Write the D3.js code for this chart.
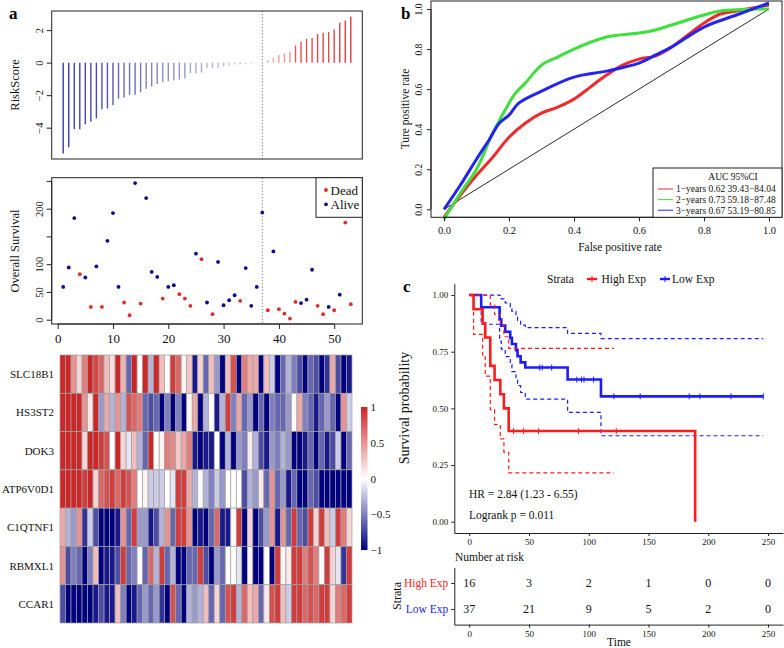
<!doctype html>
<html>
<head>
<meta charset="utf-8">
<title>Risk model figure</title>
<script src="https://d3js.org/d3.v7.min.js"></script>
<style>
  html, body { margin: 0; padding: 0; background: #fff; }
  svg { display: block; font-family: "Liberation Serif", "Times New Roman", serif; }
</style>
</head>
<body>
<div id="chart"></div>
<script>
// ---------- panel a data ----------
var riskScore = [-5.59, -5.2, -4.1, -4.1, -3.8, -3.63, -3.43, -2.86, -2.82, -2.6,
  -2.22, -2.14, -1.98, -1.98, -1.82, -1.61, -1.47, -1.31, -1.2, -1.14,
  -1.08, -1.04, -0.98, -0.65, -0.65, -0.61, -0.35, -0.35, -0.33, -0.24,
  -0.18, -0.12, -0.1, -0.08, -0.06, -0.04, -0.02,
  0.16, 0.29, 0.47, 0.57, 0.69, 1.06, 1.29, 1.47, 1.51, 1.76, 1.84, 1.88, 2.04, 2.45, 2.59, 2.84];
var survTime = [59, 94, 183, 82, 76, 23, 96, 23, 142, 192, 59, 31, 8, 246, 29, 219, 86, 77, 38, 59,
  62, 46, 38, 25, 119, 109, 31, 10, 104, 26, 35, 44, 34, 93, 25, 59, 193,
  17, 123, 19, 11, 2, 32, 30, 36, 90, 25, 10, 23, 17, 45, 175, 28];
var survStatus = [0, 0, 0, 1, 0, 1, 0, 1, 0, 0, 0, 1, 1, 0, 1, 0, 0, 0, 1, 0,
  0, 1, 1, 1, 0, 1, 0, 1, 0, 0, 0, 0, 1, 0, 0, 0, 0,
  1, 0, 1, 1, 1, 1, 0, 0, 0, 1, 1, 0, 1, 0, 1, 1];
var statusNames = ["Alive", "Dead"];
var cutIndex = 37;
var riskTicks = [-4, -2, 0, 2];
var survTicks = [0, 50, 100, 150, 200, 250];
var survTickLabels = ["0", "50", "100", "", "200", ""];
var indexTicks = [0, 10, 20, 30, 40, 50];

var genes = ["SLC18B1", "HS3ST2", "DOK3", "ATP6V0D1", "C1QTNF1", "RBMXL1", "CCAR1"];
var exprRows = [
  [1, 1, 0.5, 0.2, 0.6, 1, 0.85, 0.7, 0.3, 0.15, 1, 0.35, -0.6, 1, 0, 1, -0.3, 1,
   0.3, 0, 0.9, 0.7, 0.05, 0.25, -0.9, 0.2, -0.6, 0.3, -0.4, -1, 0.3, 0.8, -1, 0.6, 0.4, 0.4,
   -1, 0.3, -0.2, -1, -0.6, -0.3, -0.5, -0.7, -1, -0.6, -0.7, -1, -0.8, 0.4, -0.7, -1, -0.9],
  [1, 1, 1, 1, 0.5, 0.1, 1, -0.4, 0.4, -0.3, 0.5, -0.3, 0.8, 0.7, 0.6, -0.6, -0.7, -0.6,
   -1, -0.5, -1, -0.5, -1, 0.05, 0.4, -1, -0.3, 0, -0.9, -0.3, 0.9, -0.5, 0.4, -0.6, -0.4, -1,
   -0.6, -1, -0.5, -0.6, -0.6, -0.4, 0, 0.4, -0.5, -0.6, -0.9, -0.6, -0.4, -0.6, -1, 0.5, -0.2],
  [1, 1, 1, 1, 0.2, 1, 1, 0.9, 0.8, 0, 1, 0.2, -0.1, 0.3, -0.3, -0.6, 1, 0,
   0.05, 0.6, 0.55, 0.25, 0.4, 0.6, -0.9, -1, -0.9, -0.9, 0, -1, -0.3, -1, -0.4, -0.5, 0.1, -0.3,
   -0.7, -0.9, -0.4, -0.5, -0.3, -0.4, -1, -1, -0.9, -0.6, -1, -0.6, -0.9, -0.7, -0.2, -1, -0.6],
  [1, 1, 1, 1, 0.9, 1, 0.2, 0.7, 0.8, 0.9, 0.7, 0.9, 0.8, 0.6, 0, 0.05, -0.2, -0.2,
   -0.2, 0, -0.1, 0.9, 0.9, 0.4, -0.3, 0, -0.3, -0.5, -0.2, -0.4, 0, 0, 0, -0.7, -0.3, -0.4,
   0.1, -0.6, 0.5, -0.6, -0.4, -0.9, -0.6, -1, -1, -0.6, -0.7, -1, -1, -1, -1, -1, -1],
  [0.4, -0.3, -0.4, 0.5, -0.8, -0.2, -0.7, -1, -1, -1, -0.9, 0.5, -0.6, 0.9, -0.4, -0.4, -0.9, -0.7,
   -0.3, 0.5, -0.6, 0.9, 0.9, 0.5, -1, -0.9, -1, -0.6, 0.7, -0.9, -0.9, 0, 0.9, -1, 0.2, -1,
   -0.7, -0.4, 0.5, -0.9, 0.5, -0.6, 0.9, -0.6, -0.7, 0.9, 0.2, 0.9, 0.3, -0.2, 0.9, 0.6, 0.2],
  [0.5, -0.7, -0.5, -0.6, -1, -0.5, 0.3, -1, -0.9, -0.9, -0.7, 0.9, -0.6, -0.5, 0, -0.6, 0.7, -0.3,
   0.9, -0.6, -0.3, -1, -1, -0.6, -0.6, 0.9, -0.7, -1, -0.4, -0.6, 0, 0, -0.1, -1, 0.05, -1,
   -1, 0, -1, 0.9, 0.05, 0.1, 0.9, 0.9, 0.6, 0.8, 0.6, 0, 0.9, 0.2, -0.1, -0.8, 0.9],
  [-0.7, -1, -1, -1, -1, -1, -0.9, -0.7, -0.9, -0.9, 0.3, -0.5, -1, -0.9, -0.6, -0.4, -0.6, -0.4,
   -0.8, -1, 0.8, -0.6, -1, -0.3, -0.4, -0.3, 0.3, -0.6, 0.2, -0.6, 0.8, 0.9, -0.3, 0.7, 0.3, 0.4,
   -0.6, 0.1, 0.8, 0.9, 0.3, -0.2, 0.9, 0.9, 0.7, 0.8, 0.7, 0.9, 0.9, 0.2, 0.6, 0.7, 0.9]
];
var heatLegendTicks = [1, 0.5, 0, -0.5, -1];

// ---------- panel b data ----------
var roc1Year = [[0, -0.04], [0.05, 0.07], [0.1, 0.17], [0.15, 0.26], [0.2, 0.36], [0.25, 0.43], [0.3, 0.48],
  [0.35, 0.51], [0.4, 0.55], [0.45, 0.61], [0.5, 0.67], [0.55, 0.72], [0.6, 0.75], [0.65, 0.765],
  [0.7, 0.81], [0.75, 0.87], [0.8, 0.93], [0.85, 0.975], [0.9, 0.99], [1, 1.02]];
var roc2Year = [[0, -0.05], [0.05, 0.08], [0.1, 0.2], [0.15, 0.38], [0.2, 0.53], [0.22, 0.58], [0.25, 0.63],
  [0.3, 0.72], [0.35, 0.76], [0.4, 0.8], [0.5, 0.86], [0.6, 0.88], [0.65, 0.895], [0.7, 0.92],
  [0.8, 0.97], [0.85, 0.99], [1, 1.0]];
var roc3Year = [[0, 0], [0.05, 0.12], [0.1, 0.25], [0.14, 0.35], [0.17, 0.43], [0.2, 0.47], [0.23, 0.53],
  [0.3, 0.59], [0.4, 0.66], [0.5, 0.69], [0.6, 0.73], [0.65, 0.77], [0.7, 0.81], [0.8, 0.91],
  [0.9, 0.97], [1, 1.03]];
var rocDiagonal = [[0, 0], [1, 1]];
var rocLabels = ["1\u2212years 0.62 39.43\u221284.04", "2\u2212years 0.73 59.18\u221287.48", "3\u2212years 0.67 53.19\u221280.85"];
var rocColors = ["#f02a2a", "#3ee03e", "#2424f0"];
var rateTicks = [0, 0.2, 0.4, 0.6, 0.8, 1];

// ---------- panel c data ----------
var strata = ["High Exp", "Low Exp"];
var kmHigh = [[0, 1], [3.6, 0.9375], [11.2, 0.875], [13.4, 0.8125], [17.6, 0.6875], [21.2, 0.625],
  [26, 0.5625], [29, 0.5], [33, 0.4], [189, 0]];
var kmHighUpper = [[0, 1], [17.6, 0.957], [21.2, 0.914], [26, 0.867], [29, 0.816], [33, 0.765], [121, 0.765]];
var kmHighLower = [[0, 1], [3.6, 0.826], [11.2, 0.727], [13.4, 0.642], [17.6, 0.494], [21.2, 0.428],
  [26, 0.365], [29, 0.306], [33, 0.215], [121, 0.215]];
var kmHighCensor = [37, 45.5, 58, 91.5, 123];
var kmLow = [[0, 1], [10, 0.946], [25.4, 0.892], [26.8, 0.865], [30.1, 0.838], [34.3, 0.811], [35.7, 0.784],
  [39.1, 0.757], [40.4, 0.73], [43, 0.703], [46.9, 0.68], [82.3, 0.627], [110.2, 0.553], [246, 0.553]];
var kmLowUpper = [[0, 1], [25.4, 0.998], [26.8, 0.983], [30.1, 0.965], [34.3, 0.948], [35.7, 0.928],
  [39.1, 0.908], [40.4, 0.888], [43, 0.867], [46.9, 0.856], [82.3, 0.831], [110.2, 0.808], [246, 0.808]];
var kmLowLower = [[0, 1], [10, 0.871], [25.4, 0.797], [26.8, 0.761], [30.1, 0.728], [34.3, 0.694],
  [35.7, 0.662], [39.1, 0.631], [40.4, 0.6], [43, 0.57], [46.9, 0.541], [82.3, 0.482], [110.2, 0.379], [246, 0.379]];
var kmLowCensor = [59, 61, 69, 90, 94, 96, 104, 121, 143, 184, 193, 219, 246];
var riskTimes = [0, 50, 100, 150, 200, 250];
var atRiskHigh = [16, 3, 2, 1, 0, 0];
var atRiskLow = [37, 21, 9, 5, 2, 0];
var survProbTicks = [0, 0.25, 0.5, 0.75, 1];
var kmColors = ["#ff1c1c", "#1c1cff"];

// ---------- helpers ----------
var serif = '"Liberation Serif", "Times New Roman", serif'
function pad(ext, f) {
    var s = (ext[1] - ext[0]) * f
    return [ext[0] - s, ext[1] + s]
}
function minus(d) {
    return d < 0 ? "\u2212" + Math.abs(d) : String(d)
}

var svg = d3.select("#chart").append("svg")
    .attr("width", 784)
    .attr("height", 648)

var ink = "#222"

// rotated left-axis labels, R style
function rotateLabels(g, off) {
    g.selectAll(".tick text")
        .attr("transform", "rotate(-90)")
        .attr("x", 0)
        .attr("y", -off)
        .attr("dy", 0)
        .style("text-anchor", "middle")
}
function styleAxis(g, fs) {
    g.attr("font-family", serif)
    g.selectAll("line").attr("stroke", ink)
    g.selectAll("path").attr("stroke", ink)
    g.selectAll("text").attr("fill", "#111").style("font-size", fs + "px")
}

// ================= panel a =================
var idx = d3.range(1, riskScore.length + 1)
var xA = d3.scaleLinear().domain(pad([1, riskScore.length], 0.04)).range([51.7, 362.3])
var yRisk = d3.scaleLinear().domain(pad(d3.extent(riskScore), 0.04)).range([159, 11])
var barColor = d3.scaleLinear()
    .domain([-5.6, -3, -1.2, 0, 0.001, 0.7, 1.1, 2.9])
    .range(["#3a3aa6", "#4a4aae", "#8c8cc8", "#c4c4e2", "#f2b4b4", "#eb9494", "#e25454", "#e03a3a"])
    .clamp(true)

svg.append("text").attr("x", 9).attr("y", 19)
    .style("font-weight", "bold").style("font-size", "17px").text("a")

var gRisk = svg.append("g")
gRisk.selectAll("line.bar").data(riskScore).enter().append("line")
    .attr("class", "bar")
    .attr("x1", function (d, i) { return xA(idx[i]) })
    .attr("x2", function (d, i) { return xA(idx[i]) })
    .attr("y1", yRisk(0))
    .attr("y2", function (d) { return yRisk(d) })
    .attr("stroke", function (d) { return barColor(d) })
    .attr("stroke-width", 1.4)
gRisk.append("line")
    .attr("x1", xA(cutIndex)).attr("x2", xA(cutIndex))
    .attr("y1", 11).attr("y2", 159)
    .attr("stroke", "#777").attr("stroke-dasharray", "1.2,2")
gRisk.append("rect").attr("x", 51.7).attr("y", 11).attr("width", 310.6).attr("height", 148)
    .attr("fill", "none").attr("stroke", ink)
var axRisk = gRisk.append("g").attr("transform", "translate(51.7,0)")
    .call(d3.axisLeft(yRisk).tickValues(riskTicks).tickSize(5).tickSizeOuter(0).tickFormat(minus))
axRisk.select(".domain").remove()
styleAxis(axRisk, 10.5)
rotateLabels(axRisk, 8.5)
svg.append("text")
    .attr("transform", "translate(19,85) rotate(-90)")
    .style("text-anchor", "middle").style("font-size", "12.5px").attr("fill", "#111")
    .text("RiskScore")

// survival scatter
var ySurv = d3.scaleLinear().domain(pad(d3.extent(survTime), 0.04)).range([324, 177.7])
var statusColor = d3.scaleOrdinal().domain(statusNames).range(["#0a0a88", "#e42a2a"])
var gSurv = svg.append("g")
gSurv.append("line")
    .attr("x1", xA(cutIndex)).attr("x2", xA(cutIndex))
    .attr("y1", 177.7).attr("y2", 324)
    .attr("stroke", "#777").attr("stroke-dasharray", "1.2,2")
gSurv.selectAll("circle").data(survTime).enter().append("circle")
    .attr("cx", function (d, i) { return xA(idx[i]) })
    .attr("cy", function (d) { return ySurv(d) })
    .attr("r", 1.9)
    .attr("fill", function (d, i) { return statusColor(statusNames[survStatus[i]]) })
gSurv.append("rect").attr("x", 51.7).attr("y", 177.7).attr("width", 310.6).attr("height", 146.3)
    .attr("fill", "none").attr("stroke", ink)
var axSurvY = gSurv.append("g").attr("transform", "translate(51.7,0)")
    .call(d3.axisLeft(ySurv).tickValues(survTicks).tickSize(5).tickSizeOuter(0)
        .tickFormat(function (d, i) { return survTickLabels[i] }))
axSurvY.select(".domain").attr("d", "M0," + ySurv(0) + "V" + ySurv(250))
styleAxis(axSurvY, 10.5)
rotateLabels(axSurvY, 8.5)
var axSurvX = gSurv.append("g").attr("transform", "translate(0,324)")
    .call(d3.axisBottom(xA).tickValues(indexTicks).tickSize(5).tickSizeOuter(0).tickPadding(5))
axSurvX.select(".domain").attr("d", "M" + xA(0) + ",0H" + xA(50))
styleAxis(axSurvX, 13)
svg.append("text")
    .attr("transform", "translate(19,251) rotate(-90)")
    .style("text-anchor", "middle").style("font-size", "12.5px").attr("fill", "#111")
    .text("Overall Survival")
// legend
var legA = svg.append("g")
legA.append("rect").attr("x", 316).attr("y", 177.7).attr("width", 46.3).attr("height", 39.6)
    .attr("fill", "#fff").attr("stroke", ink)
;["Dead", "Alive"].forEach(function (s, i) {
    legA.append("circle").attr("cx", 326).attr("cy", 190 + i * 14.3).attr("r", 1.9).attr("fill", statusColor(s))
    legA.append("text").attr("x", 330.5).attr("y", 194.5 + i * 14.3)
        .style("font-size", "13px").attr("fill", "#111").text(s)
})

// heatmap
var xH = d3.scaleBand().domain(idx).range([60, 352])
var yH = d3.scaleBand().domain(genes).range([355, 623])
var heatColor = d3.scaleLinear().domain([-1, 0, 1]).range(["#000080", "#ffffff", "#cd2626"])
var gHeat = svg.append("g")
exprRows.forEach(function (row, r) {
    gHeat.selectAll("rect.r" + r).data(row).enter().append("rect")
        .attr("class", "r" + r)
        .attr("x", function (d, i) { return xH(idx[i]) })
        .attr("y", yH(genes[r]))
        .attr("width", xH.bandwidth())
        .attr("height", yH.bandwidth())
        .attr("fill", function (d) { return heatColor(d) })
        .attr("stroke", "#a0a0a0").attr("stroke-width", 0.7)
})
gHeat.selectAll("text.gene").data(genes).enter().append("text")
    .attr("class", "gene")
    .attr("x", 54)
    .attr("y", function (d) { return yH(d) + yH.bandwidth() / 2 + 4 })
    .style("text-anchor", "end").style("font-size", "11px").attr("fill", "#111")
    .text(function (d) { return d })
var grad = svg.append("defs").append("linearGradient").attr("id", "hgrad")
    .attr("x1", 0).attr("y1", 1).attr("x2", 0).attr("y2", 0)
d3.range(0, 1.0001, 0.05).forEach(function (t) {
    grad.append("stop").attr("offset", t).attr("stop-color", heatColor(-1 + 2 * t))
})
var yHL = d3.scaleLinear().domain([-1, 1]).range([550, 407])
svg.append("rect").attr("x", 361).attr("y", 407).attr("width", 6.5).attr("height", 143).attr("fill", "url(#hgrad)")
var axHL = svg.append("g").attr("transform", "translate(367.5,0)")
    .call(d3.axisRight(yHL).tickValues(heatLegendTicks).tickSize(0).tickPadding(3).tickFormat(minus))
axHL.select(".domain").remove()
styleAxis(axHL, 11)

// ================= panel b =================
var xB = d3.scaleLinear().domain([-0.04, 1.04]).range([431, 782])
var yB = d3.scaleLinear().domain([-0.04, 1.04]).range([217.3, 1])
svg.append("text").attr("x", 401).attr("y", 19)
    .style("font-weight", "bold").style("font-size", "17px").text("b")
var gB = svg.append("g")
var lineB = d3.line().x(function (d) { return xB(d[0]) }).y(function (d) { return yB(d[1]) })
gB.append("path").datum(rocDiagonal).attr("d", lineB).attr("stroke", "#111").attr("stroke-width", 0.9).attr("fill", "none")
var smooth = d3.line().curve(d3.curveCatmullRom.alpha(0.5))
    .x(function (d) { return xB(d[0]) }).y(function (d) { return yB(d[1]) })
;[roc1Year, roc2Year, roc3Year].forEach(function (c, i) {
    gB.append("path").datum(c).attr("d", smooth).attr("fill", "none")
        .attr("stroke", rocColors[i]).attr("stroke-width", 3).attr("stroke-linejoin", "round")
})
gB.append("rect").attr("x", 431).attr("y", 1).attr("width", 351).attr("height", 216.3)
    .attr("fill", "none").attr("stroke", ink)
var axBX = gB.append("g").attr("transform", "translate(0,217.3)")
    .call(d3.axisBottom(xB).tickValues(rateTicks).tickSize(4).tickSizeOuter(0).tickPadding(5).tickFormat(d3.format(".1f")))
axBX.select(".domain").attr("d", "M" + xB(0) + ",0H" + xB(1))
styleAxis(axBX, 10.5)
var axBY = gB.append("g").attr("transform", "translate(431,0)")
    .call(d3.axisLeft(yB).tickValues(rateTicks).tickSize(4).tickSizeOuter(0).tickFormat(d3.format(".1f")))
axBY.select(".domain").attr("d", "M0," + yB(0) + "V" + yB(1))
styleAxis(axBY, 9.5)
rotateLabels(axBY, 9)
svg.append("text").attr("x", 620).attr("y", 251)
    .style("text-anchor", "middle").style("font-size", "11.5px").attr("fill", "#111").text("False positive rate")
svg.append("text").attr("transform", "translate(409,109) rotate(-90)")
    .style("text-anchor", "middle").style("font-size", "11.5px").attr("fill", "#111").text("Ture positive rate")
var legB = gB.append("g")
legB.append("rect").attr("x", 653).attr("y", 168).attr("width", 129).attr("height", 49.3)
    .attr("fill", "#fff").attr("stroke", ink)
legB.append("text").attr("x", 733).attr("y", 179.5).style("text-anchor", "middle")
    .style("font-size", "9.5px").attr("fill", "#111").text("AUC 95%CI")
rocLabels.forEach(function (s, i) {
    var y = 189 + i * 10.6
    legB.append("line").attr("x1", 658).attr("x2", 673).attr("y1", y).attr("y2", y)
        .attr("stroke", rocColors[i]).attr("stroke-width", 1)
    legB.append("text").attr("x", 676).attr("y", y + 3.3)
        .style("font-size", "9.5px").attr("fill", "#111").text(s)
})

// ================= panel c =================
var xC = d3.scaleLinear().domain([-12.5, 262.5]).range([454.3, 783])
var yC = d3.scaleLinear().domain([-0.05, 1.05]).range([533, 283.7])
svg.append("text").attr("x", 403).attr("y", 292)
    .style("font-weight", "bold").style("font-size", "17px").text("c")
var gC = svg.append("g")
var step = d3.line().curve(d3.curveStepAfter)
    .x(function (d) { return xC(d[0]) }).y(function (d) { return yC(d[1]) })
function drawKM(main, up, lo, cens, col) {
    ;[up, lo].forEach(function (c) {
        gC.append("path").datum(c).attr("d", step).attr("fill", "none")
            .attr("stroke", col).attr("stroke-width", 1.2).attr("stroke-dasharray", "4,3")
    })
    gC.append("path").datum(main).attr("d", step).attr("fill", "none")
        .attr("stroke", col).attr("stroke-width", 2.6)
    var fn = function (t) {
        var v = main[0][1]
        main.forEach(function (p) { if (p[0] <= t) v = p[1] })
        return v
    }
    gC.selectAll(null).data(cens).enter().append("line")
        .attr("x1", function (t) { return xC(t) }).attr("x2", function (t) { return xC(t) })
        .attr("y1", function (t) { return yC(fn(t)) - 3 }).attr("y2", function (t) { return yC(fn(t)) + 3 })
        .attr("stroke", col).attr("stroke-width", 1)
}
drawKM(kmLow, kmLowUpper, kmLowLower, kmLowCensor, kmColors[1])
drawKM(kmHigh, kmHighUpper, kmHighLower, kmHighCensor, kmColors[0])

var axCY = gC.append("g").attr("transform", "translate(454.3,0)")
    .call(d3.axisLeft(yC).tickValues(survProbTicks).tickSize(3).tickSizeOuter(0).tickPadding(3).tickFormat(d3.format(".2f")))
styleAxis(axCY, 9)
var axCX = gC.append("g").attr("transform", "translate(0,533)")
    .call(d3.axisBottom(xC).tickValues(riskTimes).tickSize(3).tickSizeOuter(0).tickPadding(3))
styleAxis(axCX, 9)
svg.append("text").attr("transform", "translate(409,408) rotate(-90)")
    .style("text-anchor", "middle").style("font-size", "14px").attr("fill", "#111").text("Survival probability")
svg.append("text").attr("x", 469).attr("y", 498).style("font-size", "11.5px").attr("fill", "#111")
    .text("HR = 2.84 (1.23 - 6.55)")
svg.append("text").attr("x", 469).attr("y", 519).style("font-size", "11.5px").attr("fill", "#111")
    .text("Logrank p = 0.011")

// legend on top
svg.append("text").attr("x", 547).attr("y", 283).style("font-size", "11.5px").attr("fill", "#111").text("Strata")
var legX = [[587, 601.5], [660, 672]]
strata.forEach(function (s, i) {
    var lx = legX[i][0]
    svg.append("line").attr("x1", lx).attr("x2", lx + 10).attr("y1", 279).attr("y2", 279)
        .attr("stroke", kmColors[i]).attr("stroke-width", 2.4)
    svg.append("line").attr("x1", lx + 5).attr("x2", lx + 5).attr("y1", 276).attr("y2", 282)
        .attr("stroke", kmColors[i]).attr("stroke-width", 1)
    svg.append("text").attr("x", legX[i][1]).attr("y", 283).style("font-size", "11.5px").attr("fill", "#111").text(s)
})

// risk table
var yT = d3.scalePoint().domain(strata).range([567.4, 624.6]).padding(0.6)
svg.append("text").attr("x", 455).attr("y", 561).style("font-size", "11.5px").attr("fill", "#111").text("Number at risk")
var axTY = svg.append("g").attr("transform", "translate(454.3,0)")
    .call(d3.axisLeft(yT).tickSize(3).tickSizeOuter(0).tickPadding(3))
styleAxis(axTY, 11.5)
axTY.selectAll(".tick text").attr("fill", function (d, i) { return kmColors[i] })
var axTX = svg.append("g").attr("transform", "translate(0,624.6)")
    .call(d3.axisBottom(xC).tickValues(riskTimes).tickSize(3).tickSizeOuter(0).tickPadding(3))
styleAxis(axTX, 9)
;[atRiskHigh, atRiskLow].forEach(function (row, r) {
    svg.selectAll(null).data(row).enter().append("text")
        .attr("x", function (d, i) { return xC(riskTimes[i]) })
        .attr("y", yT(strata[r]) + 4)
        .style("text-anchor", "middle").style("font-size", "12px").attr("fill", "#111")
        .text(function (d) { return d })
})
svg.append("text").attr("transform", "translate(401,596) rotate(-90)")
    .style("text-anchor", "middle").style("font-size", "12px").attr("fill", "#111").text("Strata")
svg.append("text").attr("x", 619).attr("y", 646).style("text-anchor", "middle")
    .style("font-size", "11.5px").attr("fill", "#111").text("Time")
</script>
</body>
</html>
